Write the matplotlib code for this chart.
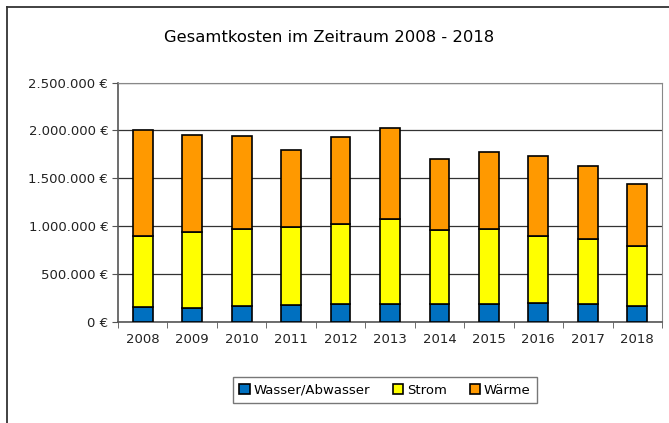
import matplotlib
matplotlib.use('Agg')
import matplotlib.pyplot as plt
from matplotlib.lines import Line2D
from matplotlib.ticker import FuncFormatter
import numpy as np

years = ['2008', '2009', '2010', '2011', '2012', '2013', '2014', '2015', '2016', '2017', '2018']
wasser = [150000, 143000, 164000, 174000, 188000, 188000, 188000, 181000, 195000, 181000, 164000]
strom = [746000, 798000, 809000, 820000, 830000, 882000, 774000, 788000, 701000, 684000, 631000]
waerme = [1112000, 1015000, 969000, 798000, 914000, 952000, 740000, 802000, 837000, 760000, 645000]

plt.rcParams['font.family'] = ['DejaVu Sans']

fig = plt.figure(figsize=(6.69, 4.23), dpi=100, facecolor='white')
ax = fig.add_axes([0.1764, 0.2395, 0.8131, 0.565])

x = np.arange(len(years))
w = 0.4
wasser_a = np.array(wasser)
strom_a = np.array(strom)
waerme_a = np.array(waerme)

ax.bar(x, wasser_a, w, color='#0070C0', edgecolor='black', linewidth=1.2, label='Wasser/Abwasser', zorder=3)
ax.bar(x, strom_a, w, bottom=wasser_a, color='#FFFF00', edgecolor='black', linewidth=1.2, label='Strom', zorder=3)
ax.bar(x, waerme_a, w, bottom=wasser_a + strom_a, color='#FF9900', edgecolor='black', linewidth=1.2, label='Wärme', zorder=3)

ax.set_xlim(-0.5, len(years) - 0.5)
ax.set_ylim(0, 2500000)
ax.set_yticks(np.arange(0, 2500001, 500000))
ax.yaxis.set_major_formatter(FuncFormatter(lambda v, p: f"{int(v):,}".replace(',', '.') + ' €'))
ax.grid(axis='y', color='#333333', linewidth=0.9, zorder=1)

ax.set_xticks(x)
ax.set_xticklabels(years)
ax.set_xticks(np.arange(-0.5, len(years), 1), minor=True)
ax.tick_params(axis='x', which='major', length=0, pad=8, labelsize=9.5, colors='#222222')
ax.tick_params(axis='x', which='minor', length=4, color='#555555')
ax.tick_params(axis='y', length=4, color='#555555', labelsize=9.5, labelcolor='#222222', pad=3)

for s in ['top', 'right']:
    ax.spines[s].set_color('#888888')
for s in ['left', 'bottom']:
    ax.spines[s].set_color('#555555')
    ax.spines[s].set_linewidth(1.2)

fig.text(0.492, 0.912, 'Gesamtkosten im Zeitraum 2008 - 2018', ha='center', va='center',
         fontsize=11.8, color='black')

leg = ax.legend(loc='center', bbox_to_anchor=(385 / 669, 1 - 390 / 423), bbox_transform=fig.transFigure,
                ncol=3, frameon=True, fancybox=False, edgecolor='#555555', fontsize=9.5,
                handlelength=0.8, handleheight=0.8, handletextpad=0.3, columnspacing=1.7,
                borderpad=0.5)
leg.get_frame().set_linewidth(1.0)

# outer chart frame (left and top)
fig.add_artist(Line2D([7 / 669, 7 / 669], [0, 1 - 7 / 423], color='#333333', linewidth=1.3))
fig.add_artist(Line2D([7 / 669, 1], [1 - 7 / 423, 1 - 7 / 423], color='#333333', linewidth=1.3))

plt.savefig('out.png', dpi=100)
